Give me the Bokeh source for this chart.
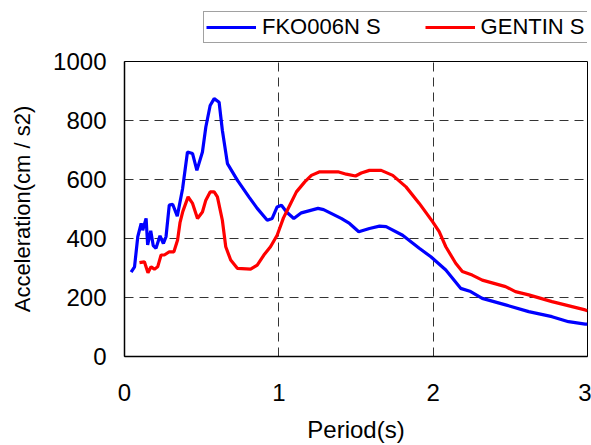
from bokeh.plotting import figure
from bokeh.layouts import column
from bokeh.models import Legend, LegendItem, Range1d, FixedTicker
from bokeh.embed import file_html
from bokeh.resources import INLINE

# FKO006 NS (blue)
fko_period = [0.043, 0.065, 0.086, 0.108, 0.118, 0.14, 0.15, 0.17, 0.186, 0.204, 0.23, 0.252,
              0.269, 0.29, 0.312, 0.342, 0.376, 0.408, 0.441, 0.469, 0.505, 0.527, 0.555,
              0.581, 0.613, 0.634, 0.667, 0.731, 0.806, 0.86, 0.925, 0.957, 0.989, 1.017,
              1.05, 1.097, 1.146, 1.254, 1.29, 1.404, 1.458, 1.518, 1.587, 1.652, 1.695,
              1.802, 1.91, 1.985, 2.082, 2.178, 2.243, 2.318, 2.469, 2.619, 2.77, 2.877,
              2.985, 3.0]
fko_acc = [286, 304, 406, 451, 428, 468, 378, 426, 376, 367, 409, 383,
           406, 513, 516, 476, 568, 693, 688, 631, 693, 778, 851,
           874, 862, 767, 654, 598, 541, 502, 462, 468, 507, 513,
           490, 468, 487, 502, 498, 468, 451, 423, 434, 442, 440,
           411, 367, 338, 293, 231, 220, 197, 175, 152, 135, 118,
           110, 110]

# GENTIN S (red)
gen_period = [0.097, 0.129, 0.152, 0.172, 0.194, 0.215, 0.237, 0.258, 0.29, 0.32, 0.344,
              0.36, 0.378, 0.412, 0.441, 0.473, 0.505, 0.527, 0.555, 0.581, 0.602, 0.634,
              0.656, 0.688, 0.731, 0.817, 0.86, 0.903, 0.946, 0.989, 1.03, 1.071, 1.114,
              1.168, 1.211, 1.265, 1.383, 1.437, 1.497, 1.534, 1.587, 1.663, 1.738, 1.824,
              1.91, 1.996, 2.039, 2.082, 2.146, 2.189, 2.253, 2.318, 2.469, 2.533, 2.619,
              2.77, 2.985, 3.0]
gen_acc = [318, 321, 284, 304, 296, 304, 344, 344, 355, 355, 395,
           455, 492, 541, 519, 468, 490, 530, 558, 558, 541, 462,
           372, 327, 299, 296, 310, 344, 372, 411, 470, 513, 558,
           592, 614, 626, 626, 618, 612, 622, 631, 631, 614, 575,
           519, 457, 423, 372, 316, 288, 276, 259, 237, 220, 209,
           186, 158, 155]

labels = ["FKO006N S", "GENTIN S"]
colors = ["#0000ff", "#ff0000"]
x_ticks = [0, 1, 2, 3]
y_ticks = [0, 200, 400, 600, 800, 1000]

FONT = "Liberation Sans"

# ---- main chart ----
p = figure(width=591, height=400, output_backend="svg", toolbar_location=None,
           x_range=Range1d(0, 3), y_range=Range1d(0, 1000),
           min_border_left=124, min_border_right=4, min_border_top=16,
           min_border_bottom=88)

p.line(fko_period, fko_acc, line_color=colors[0], line_width=3.2)
p.line(gen_period, gen_acc, line_color=colors[1], line_width=3.2)

p.outline_line_color = "black"
p.outline_line_width = 1

for ax in (p.xaxis[0], p.yaxis[0]):
    ax.axis_line_color = "black"
    ax.axis_line_width = 1.5
    ax.major_tick_line_color = None
    ax.minor_tick_line_color = None
    ax.major_tick_out = 0
    ax.major_tick_in = 0
    ax.major_label_text_font = FONT
    ax.major_label_text_font_size = "24px"
    ax.major_label_text_color = "black"
    ax.axis_label_text_font = FONT
    ax.axis_label_text_font_style = "normal"
    ax.axis_label_text_color = "black"

p.xaxis.axis_label_text_font_size = "24px"
p.yaxis.axis_label_text_font_size = "22px"
p.xaxis.ticker = FixedTicker(ticks=x_ticks)
p.yaxis.ticker = FixedTicker(ticks=y_ticks)
p.xaxis.major_label_standoff = 27
p.yaxis.major_label_standoff = 18
p.xaxis.axis_label = "Period(s)"
p.yaxis.axis_label = "Acceleration(cm / s2)"
p.xaxis.axis_label_standoff = 12
p.yaxis.axis_label_standoff = 15

p.xgrid.ticker = FixedTicker(ticks=x_ticks)
p.ygrid.ticker = FixedTicker(ticks=y_ticks)
for g in (p.xgrid[0], p.ygrid[0]):
    g.grid_line_color = "#333333"
    g.grid_line_width = 1
    g.grid_line_dash = "9 6"

# ---- legend strip above the chart (series drawn outside its view) ----
lg = figure(width=591, height=45, output_backend="svg", toolbar_location=None,
            x_range=Range1d(10, 11), y_range=Range1d(10, 11),
            x_axis_type=None, y_axis_type=None,
            min_border_left=0, min_border_right=0, min_border_top=0,
            min_border_bottom=0)
lg.outline_line_color = None
lg.xgrid.visible = False
lg.ygrid.visible = False
l1 = lg.line(fko_period, fko_acc, line_color=colors[0], line_width=3.2)
l2 = lg.line(gen_period, gen_acc, line_color=colors[1], line_width=3.2)

legend = Legend(items=[LegendItem(label=labels[0], renderers=[l1]),
                       LegendItem(label=labels[1], renderers=[l2])],
                orientation="horizontal", location=(79, 2))
legend.border_line_color = "#444444"
legend.border_line_width = 1
legend.background_fill_alpha = 1
legend.label_text_font = FONT
legend.label_text_font_size = "22px"
legend.label_text_color = "black"
legend.glyph_width = 50
legend.glyph_height = 20
legend.label_standoff = 6
legend.padding = 2
legend.margin = 0
legend.spacing = 44
legend.label_height = 20
lg.add_layout(legend, "center")

layout = column(lg, p, spacing=0)
open("out.html", "w").write(file_html(layout, INLINE))
